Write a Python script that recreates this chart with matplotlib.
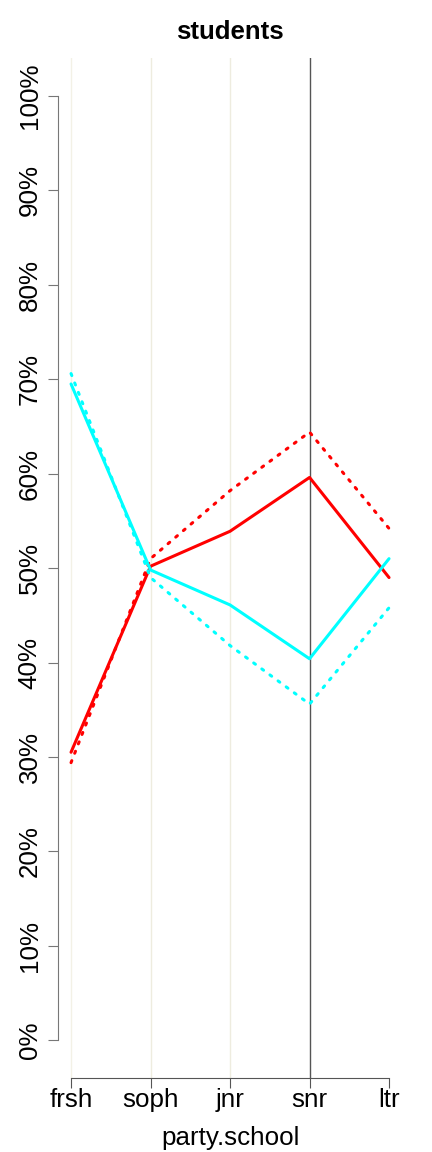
import matplotlib
matplotlib.use('Agg')
import matplotlib.pyplot as plt
import numpy as np

plt.rcParams['font.family'] = ['Liberation Sans', 'DejaVu Sans']

categories = ['frsh', 'soph', 'jnr', 'snr', 'ltr']
red_solid = [30.5, 50.2, 53.9, 59.6, 49.0]
red_dotted = [29.4, 51.0, 58.2, 64.4, 54.2]
cyan_solid = [69.5, 49.8, 46.1, 40.4, 51.0]
cyan_dotted = [70.6, 49.0, 41.8, 35.6, 45.8]
yticks = [0, 10, 20, 30, 40, 50, 60, 70, 80, 90, 100]

x = np.arange(1, len(categories) + 1)

fig = plt.figure(figsize=(4.32, 11.52), dpi=100)
ax = fig.add_axes([0.135, 0.0642, 0.795, 0.8853])
ax.set_xlim(0.84, 5.16)
ax.set_ylim(-4, 104)

# reference lines
for xi, c in zip(x[:3], ['#f3f1e6', '#eeecdf', '#eeecdf']):
    ax.axvline(xi, color=c, lw=1.0, zorder=1)
ax.axvline(x[3], color='#555555', lw=1.0, zorder=1)

dot = dict(dashes=(0.7, 2.6), dash_capstyle='round')
ax.plot(x, red_dotted, color='red', lw=2.2, zorder=3, **dot)
ax.plot(x, red_solid, color='red', lw=2.2, zorder=3, solid_capstyle='round')
ax.plot(x, cyan_dotted, color='cyan', lw=2.2, zorder=4, **dot)
ax.plot(x, cyan_solid, color='cyan', lw=2.2, zorder=4, solid_capstyle='round')

for s in ['top', 'right']:
    ax.spines[s].set_visible(False)
ax.spines['left'].set_bounds(0, 100)
ax.spines['bottom'].set_bounds(1, 5)
ax.spines['left'].set_color('#777777')
ax.spines['bottom'].set_color('#555555')

ax.set_xticks(x)
ax.set_xticklabels(categories, fontsize=18.7)
ax.set_yticks(yticks)
ax.set_yticklabels(['%d%%' % v for v in yticks], fontsize=18.7, rotation=90, va='center')
ax.tick_params(axis='y', length=7, color='#777777', pad=5)
ax.tick_params(axis='x', length=7, color='#555555', pad=0)

ax.set_xlabel('party.school', fontsize=18.7, labelpad=10)
ax.set_title('students', fontsize=18.5, fontweight='bold', pad=14)

fig.savefig('out.png', dpi=100)
